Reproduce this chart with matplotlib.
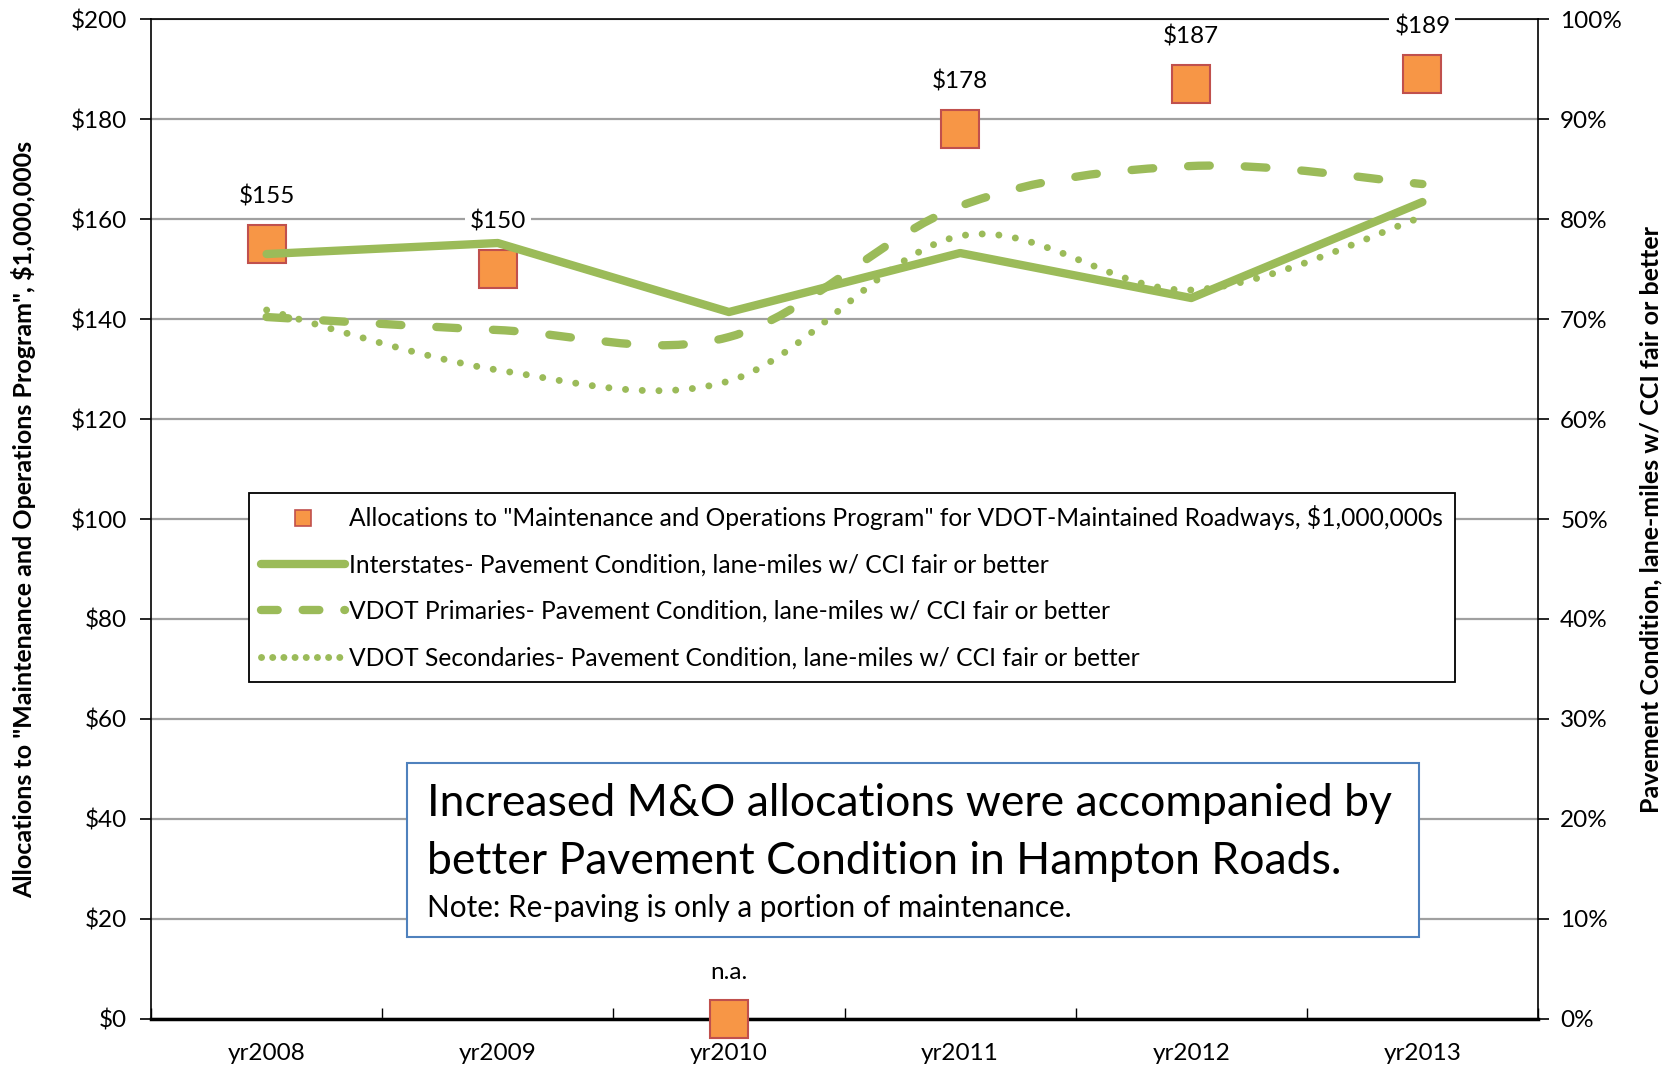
import numpy as np
import matplotlib.pyplot as plt
from matplotlib.lines import Line2D
from matplotlib.path import Path
from matplotlib.patches import PathPatch, Rectangle

plt.rcParams['font.family'] = ['Lato', 'DejaVu Sans']

years = ['yr2008', 'yr2009', 'yr2010', 'yr2011', 'yr2012', 'yr2013']
alloc = [155, 150, 0, 178, 187, 189]
alloc_labels = ['$155', '$150', 'n.a.', '$178', '$187', '$189']
interstates = [76.5, 77.6, 70.7, 76.6, 72.1, 81.7]
primaries = [70.2, 68.9, 68.2, 81.3, 85.3, 83.5]
secondaries = [70.9, 64.9, 63.8, 78.3, 72.9, 80.2]

green = '#9bbb59'
orange = '#f79646'
red = '#c0504d'


def smooth_path(xs, ys):
    # Excel-style smoothed line: Catmull-Rom segments as cubic Beziers
    pts = np.column_stack([xs, ys]).astype(float)
    ext = np.vstack([pts[0], pts, pts[-1]])
    verts = [pts[0]]
    codes = [Path.MOVETO]
    for i in range(len(pts) - 1):
        p0, p1, p2, p3 = ext[i], ext[i + 1], ext[i + 2], ext[i + 3]
        verts += [p1 + (p2 - p0) / 6, p2 - (p3 - p1) / 6, p2]
        codes += [Path.CURVE4] * 3
    return Path(verts, codes)


fig = plt.figure(figsize=(16.69, 10.70), dpi=100)
ax = fig.add_axes([0.0905, 0.0477, 0.831, 0.9345])
x = np.arange(len(years))

ax.set_xlim(-0.5, 5.5)
ax.set_ylim(0, 200)
ax.set_yticks(range(0, 201, 20))
ax.set_yticklabels([f'${v}' for v in range(0, 201, 20)], fontsize=17.5)
ax.set_xticks(x)
ax.set_xticklabels(years, fontsize=17.5)
ax.set_xticks(np.arange(-0.5, 6, 1), minor=True)
ax.tick_params(axis='x', which='major', length=0, pad=17)
ax.tick_params(axis='x', which='minor', length=8, direction='in', width=1)
ax.tick_params(axis='y', length=8, width=1.2, pad=9.5)
ax.grid(axis='y', color='#a0a0a0', lw=1.6)
ax.set_axisbelow(True)
for s in ax.spines.values():
    s.set_linewidth(1.2)
ax.spines['bottom'].set_linewidth(2.5)
ax.set_ylabel('Allocations to "Maintenance and Operations Program", $1,000,000s',
              fontsize=18, fontweight='bold')
ax.yaxis.set_label_coords(-0.083, 0.5)

ax.plot(x, alloc, ls='none', marker='s', ms=28, mfc=orange, mec=red, mew=1.5,
        zorder=3, clip_on=False)
for xi, v, lab in zip(x, alloc, alloc_labels):
    ax.annotate(lab, (xi, v), xytext=(0, 26), textcoords='offset points',
                ha='center', va='bottom', fontsize=17.5, zorder=5,
                bbox=dict(boxstyle='square,pad=0.2', fc='white', ec='none'),
                annotation_clip=False)

ax2 = ax.twinx()
ax2.set_ylim(0, 100)
ax2.set_yticks(range(0, 101, 10))
ax2.set_yticklabels([f'{v}%' for v in range(0, 101, 10)], fontsize=17.5)
ax2.tick_params(axis='y', length=8, width=1.2, pad=8)
ax2.set_ylabel('Pavement Condition, lane-miles w/ CCI fair or better',
               fontsize=18, fontweight='bold', rotation=90)
ax2.yaxis.set_label_coords(1.0728, 0.5)
for s in ax2.spines.values():
    s.set_visible(False)

ax2.plot(x, interstates, color=green, lw=6, solid_capstyle='round',
         solid_joinstyle='round', zorder=2)
ax2.add_patch(PathPatch(smooth_path(x, primaries), fc='none', ec=green, lw=6,
                        ls=(0, (2.6, 4.2)), capstyle='round', zorder=2))
ax2.add_patch(PathPatch(smooth_path(x, secondaries), fc='none', ec=green, lw=5,
                        ls=(0, (0.01, 2.4)), capstyle='round', zorder=2))

handles = [
    Line2D([], [], ls='none', marker='s', ms=11, mfc=orange, mec=red, mew=1.2),
    Line2D([], [], color=green, lw=6, solid_capstyle='round'),
    Line2D([], [], color=green, lw=6, ls=(0, (2.0, 3.0)), dash_capstyle='round'),
    Line2D([], [], color=green, lw=5, ls=(0, (0.01, 1.6)), dash_capstyle='round'),
]
labels = [
    'Allocations to "Maintenance and Operations Program" for VDOT-Maintained Roadways, $1,000,000s',
    'Interstates- Pavement Condition, lane-miles w/ CCI fair or better',
    'VDOT Primaries- Pavement Condition, lane-miles w/ CCI fair or better',
    'VDOT Secondaries- Pavement Condition, lane-miles w/ CCI fair or better',
]
leg = ax2.legend(handles, labels, loc='upper left', bbox_to_anchor=(0.0707, 0.526),
                 borderaxespad=0, fontsize=17.7, handlelength=3.4, handletextpad=0.15,
                 labelspacing=0.95, fancybox=False, edgecolor='black',
                 framealpha=1, borderpad=0.5)
leg.get_frame().set_linewidth(1.3)
leg.set_zorder(6)

ax2.add_patch(Rectangle((0.1846, 0.082), 0.7296, 0.174, transform=ax2.transAxes,
                        fc='white', ec='#4f81bd', lw=1.5, zorder=7))
ax2.text(0.199, 0.2154, 'Increased M&O allocations were accompanied by',
         transform=ax2.transAxes, fontsize=32, va='center', ha='left', zorder=8)
ax2.text(0.199, 0.157, 'better Pavement Condition in Hampton Roads.',
         transform=ax2.transAxes, fontsize=32, va='center', ha='left', zorder=8)
ax2.text(0.199, 0.111, 'Note: Re-paving is only a portion of maintenance.',
         transform=ax2.transAxes, fontsize=21.3, va='center', ha='left', zorder=8)

fig.savefig('out.png', dpi=100)
